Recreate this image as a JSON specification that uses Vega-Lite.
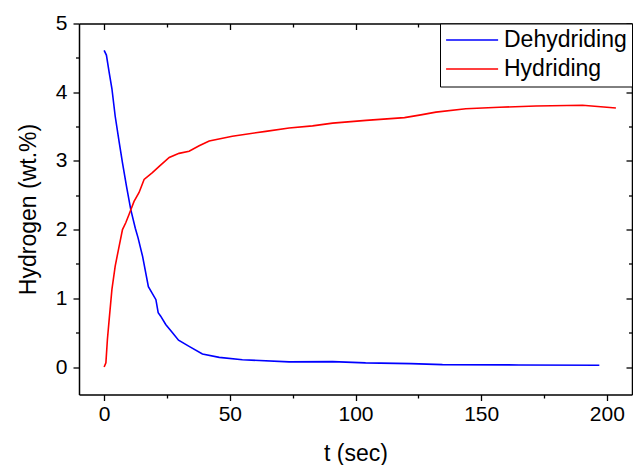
{
  "$schema": "https://vega.github.io/schema/vega-lite/v6.json",
  "width": 553,
  "height": 371,
  "autosize": {"type": "none"},
  "padding": {"left": 79, "top": 23.5, "right": 1, "bottom": 70.5},
  "background": "white",
  "config": {
    "font": "Liberation Sans",
    "view": {"stroke": null}
  },
  "data": {
    "values": [
      {"t": 0, "h": 4.61, "s": "Dehydriding"},
      {"t": 0.9, "h": 4.54, "s": "Dehydriding"},
      {"t": 2, "h": 4.29, "s": "Dehydriding"},
      {"t": 3.1, "h": 4.05, "s": "Dehydriding"},
      {"t": 4.4, "h": 3.65, "s": "Dehydriding"},
      {"t": 6, "h": 3.27, "s": "Dehydriding"},
      {"t": 7.3, "h": 2.97, "s": "Dehydriding"},
      {"t": 8.9, "h": 2.63, "s": "Dehydriding"},
      {"t": 10.6, "h": 2.29, "s": "Dehydriding"},
      {"t": 12.4, "h": 2.02, "s": "Dehydriding"},
      {"t": 13.5, "h": 1.88, "s": "Dehydriding"},
      {"t": 15.3, "h": 1.61, "s": "Dehydriding"},
      {"t": 17.6, "h": 1.17, "s": "Dehydriding"},
      {"t": 20.6, "h": 0.98, "s": "Dehydriding"},
      {"t": 21.5, "h": 0.79, "s": "Dehydriding"},
      {"t": 22.5, "h": 0.74, "s": "Dehydriding"},
      {"t": 24.5, "h": 0.62, "s": "Dehydriding"},
      {"t": 27.2, "h": 0.5, "s": "Dehydriding"},
      {"t": 29.6, "h": 0.39, "s": "Dehydriding"},
      {"t": 33.8, "h": 0.3, "s": "Dehydriding"},
      {"t": 39.1, "h": 0.19, "s": "Dehydriding"},
      {"t": 45.8, "h": 0.14, "s": "Dehydriding"},
      {"t": 55, "h": 0.106, "s": "Dehydriding"},
      {"t": 73.6, "h": 0.075, "s": "Dehydriding"},
      {"t": 90.9, "h": 0.078, "s": "Dehydriding"},
      {"t": 104, "h": 0.06, "s": "Dehydriding"},
      {"t": 122, "h": 0.05, "s": "Dehydriding"},
      {"t": 134.6, "h": 0.035, "s": "Dehydriding"},
      {"t": 165, "h": 0.03, "s": "Dehydriding"},
      {"t": 197, "h": 0.025, "s": "Dehydriding"},
      {"t": 0, "h": 0.0, "s": "Hydriding"},
      {"t": 0.7, "h": 0.06, "s": "Hydriding"},
      {"t": 1.3, "h": 0.4, "s": "Hydriding"},
      {"t": 2, "h": 0.69, "s": "Hydriding"},
      {"t": 3.1, "h": 1.13, "s": "Hydriding"},
      {"t": 4.4, "h": 1.47, "s": "Hydriding"},
      {"t": 5.7, "h": 1.71, "s": "Hydriding"},
      {"t": 7.3, "h": 2.0, "s": "Hydriding"},
      {"t": 8.6, "h": 2.1, "s": "Hydriding"},
      {"t": 9.9, "h": 2.22, "s": "Hydriding"},
      {"t": 11.9, "h": 2.41, "s": "Hydriding"},
      {"t": 13.9, "h": 2.54, "s": "Hydriding"},
      {"t": 15.9, "h": 2.73, "s": "Hydriding"},
      {"t": 19.2, "h": 2.83, "s": "Hydriding"},
      {"t": 21.9, "h": 2.92, "s": "Hydriding"},
      {"t": 25.9, "h": 3.05, "s": "Hydriding"},
      {"t": 29.8, "h": 3.11, "s": "Hydriding"},
      {"t": 33.8, "h": 3.14, "s": "Hydriding"},
      {"t": 37.8, "h": 3.22, "s": "Hydriding"},
      {"t": 41.8, "h": 3.29, "s": "Hydriding"},
      {"t": 51, "h": 3.36, "s": "Hydriding"},
      {"t": 64.3, "h": 3.43, "s": "Hydriding"},
      {"t": 73.6, "h": 3.48, "s": "Hydriding"},
      {"t": 82.9, "h": 3.51, "s": "Hydriding"},
      {"t": 90.9, "h": 3.55, "s": "Hydriding"},
      {"t": 104.2, "h": 3.59, "s": "Hydriding"},
      {"t": 119.5, "h": 3.63, "s": "Hydriding"},
      {"t": 126, "h": 3.67, "s": "Hydriding"},
      {"t": 132, "h": 3.71, "s": "Hydriding"},
      {"t": 143.9, "h": 3.76, "s": "Hydriding"},
      {"t": 157.2, "h": 3.78, "s": "Hydriding"},
      {"t": 171.8, "h": 3.8, "s": "Hydriding"},
      {"t": 190.3, "h": 3.81, "s": "Hydriding"},
      {"t": 203.6, "h": 3.77, "s": "Hydriding"}
    ]
  },
  "layer": [
    {
      "mark": {"type": "line", "strokeWidth": 1.6, "clip": true},
      "encoding": {
        "x": {
          "field": "t", "type": "quantitative",
          "scale": {"domain": [-10, 210], "nice": false, "zero": false},
          "axis": {
            "title": "t (sec)", "titleFontSize": 23, "titleFontWeight": "normal", "titleColor": "#000", "titlePadding": 18,
            "values": [0, 25, 50, 75, 100, 125, 150, 175, 200],
            "labelExpr": "datum.value % 50 === 0 ? format(datum.value, 'd') : ''",
            "labelFontSize": 21, "labelColor": "#000", "labelPadding": 3, "labelFlush": false,
            "tickColor": "#000", "tickWidth": 1.3,
            "tickSize": {"condition": {"test": "datum.value % 50 === 0", "value": 6}, "value": 3.5},
            "domainColor": "#000", "domainWidth": 1.5, "grid": false
          }
        },
        "y": {
          "field": "h", "type": "quantitative",
          "scale": {"domain": [-0.4, 5], "nice": false, "zero": false},
          "axis": {
            "title": "Hydrogen (wt.%)", "titleFontSize": 23, "titleFontWeight": "normal", "titleColor": "#000", "titlePadding": 15,
            "values": [0, 0.5, 1, 1.5, 2, 2.5, 3, 3.5, 4, 4.5, 5],
            "labelExpr": "datum.value % 1 === 0 ? format(datum.value, 'd') : ''",
            "labelFontSize": 21, "labelColor": "#000", "labelPadding": 6, "labelFlush": false,
            "tickColor": "#000", "tickWidth": 1.3,
            "tickSize": {"condition": {"test": "datum.value % 1 === 0", "value": 6}, "value": 3.5},
            "domainColor": "#000", "domainWidth": 1.5, "grid": false
          }
        },
        "color": {
          "field": "s", "type": "nominal",
          "scale": {"domain": ["Dehydriding", "Hydriding"], "range": ["#0000ff", "#ff0000"]},
          "legend": {
            "title": null, "orient": "top-right", "offset": 0,
            "symbolType": "M-1.6,0H6.4", "symbolSize": 169, "symbolStrokeWidth": 1.6,
            "symbolFillColor": "transparent",
            "labelFontSize": 23, "labelColor": "#000", "labelLimit": 300, "labelOffset": 36,
            "strokeColor": "#000", "fillColor": "white", "padding": 5, "rowPadding": 5
          }
        }
      }
    },
    {
      "mark": {"type": "line", "opacity": 0},
      "encoding": {
        "x": {
          "field": "t", "type": "quantitative",
          "axis": {
            "orient": "top", "title": null, "labels": false,
            "values": [0, 25, 50, 75, 100, 125, 150, 175, 200],
            "tickColor": "#000", "tickWidth": 1.3,
            "tickSize": {"condition": {"test": "datum.value % 50 === 0", "value": -6}, "value": -3.5},
            "domainColor": "#000", "domainWidth": 1.5, "grid": false
          }
        },
        "y": {
          "field": "h", "type": "quantitative",
          "axis": {
            "orient": "right", "title": null, "labels": false,
            "values": [0, 0.5, 1, 1.5, 2, 2.5, 3, 3.5, 4, 4.5, 5],
            "tickColor": "#000", "tickWidth": 1.3,
            "tickSize": {"condition": {"test": "datum.value % 1 === 0", "value": -6}, "value": -3.5},
            "domainColor": "#000", "domainWidth": 1.5, "grid": false
          }
        },
        "detail": {"field": "s"}
      }
    }
  ],
  "resolve": {"axis": {"x": "independent", "y": "independent"}}
}
